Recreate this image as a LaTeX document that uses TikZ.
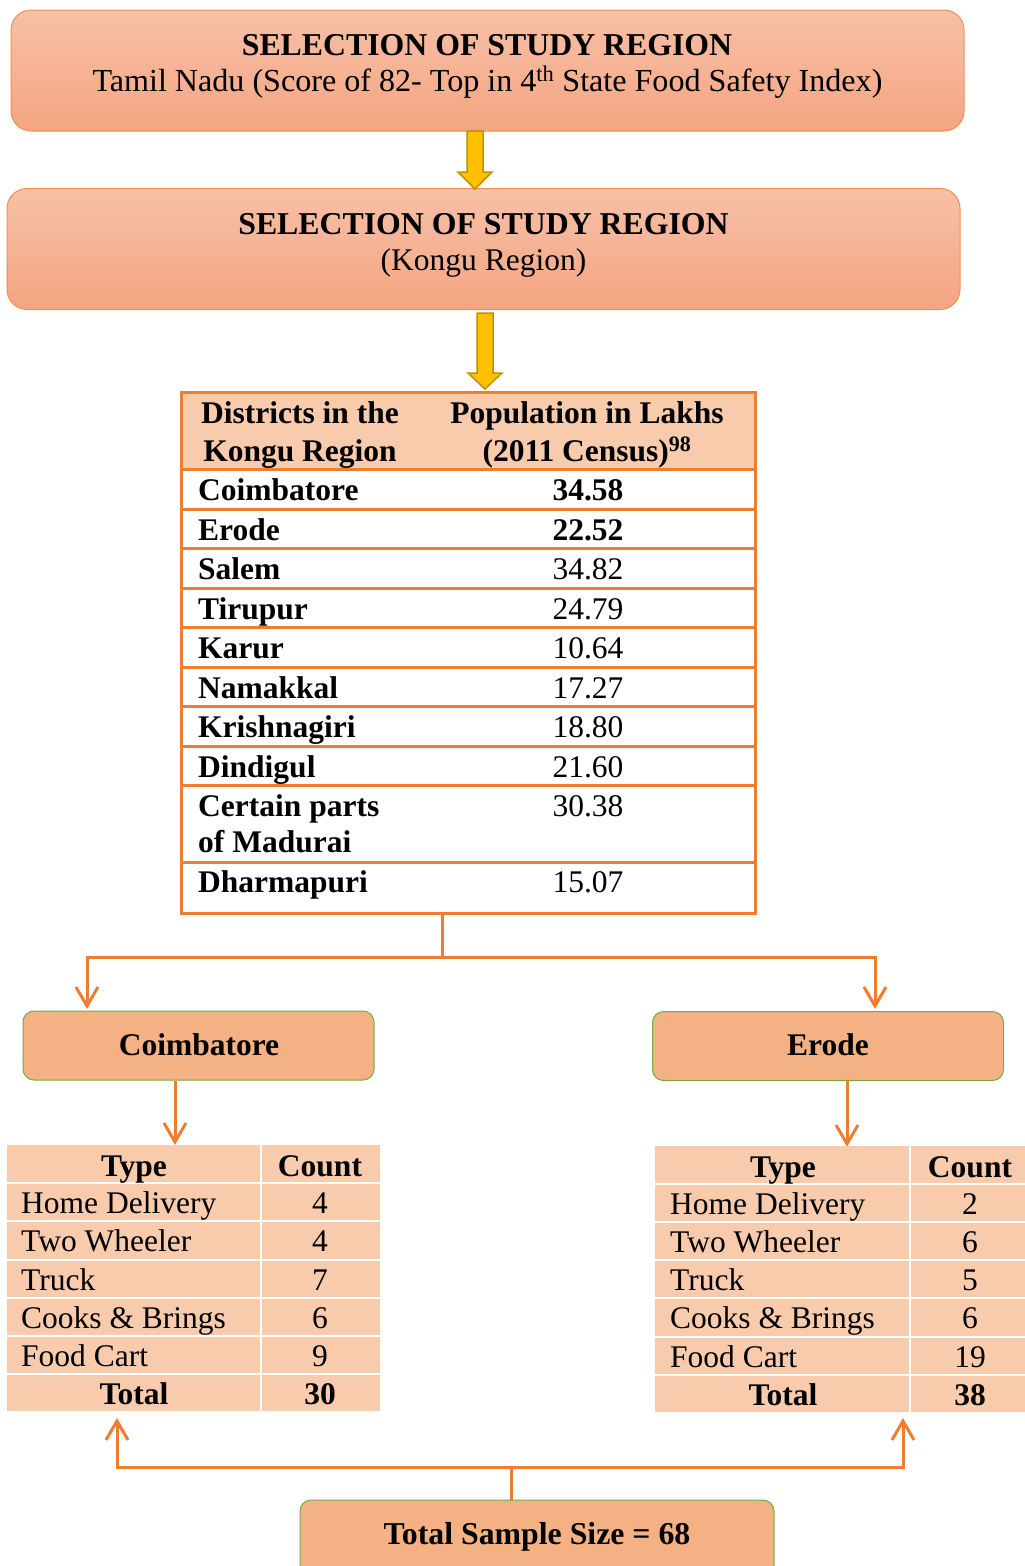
\documentclass[tikz,border=0pt]{standalone}
\usepackage{fontspec}
\setmainfont{Liberation Serif}
\usetikzlibrary{arrows.meta}
\definecolor{org}{HTML}{ED7D31}
\definecolor{peach}{HTML}{F8CBAD}
\definecolor{boxfill}{HTML}{F4B183}
\definecolor{grn}{HTML}{70AD47}
\definecolor{gtop}{HTML}{F7C0A7}
\definecolor{gbot}{HTML}{F4A581}
\definecolor{yel}{HTML}{FFC000}
\definecolor{yelb}{HTML}{BF9000}
\begin{document}
\begin{tikzpicture}[x=1pt,y=-1pt,
  every node/.style={font=\fontsize{31.5}{36}\selectfont, inner sep=0pt},
  bigbox/.style={draw=org!85, line width=1pt, rounded corners=20pt, top color=gtop, bottom color=gbot, minimum width=953pt, minimum height=121pt},
  distbox/.style={draw=grn, line width=1pt, fill=boxfill, rounded corners=11pt, minimum width=351pt, minimum height=69pt},
  yarrow/.style={fill=yel, draw=yelb, line width=1.5pt, line join=miter},
  conn/.style={draw=org, line width=3pt},
  barb/.style={-{Straight Barb[length=19pt,width=22pt]}},
  tline/.style={draw=org, line width=3pt},
  wline/.style={draw=white, line width=2pt},
  txt/.style={anchor=base},
  txtl/.style={anchor=base west},
]
\useasboundingbox (0,0) rectangle (1025,1566);

% top boxes
\node[bigbox] (b1) at (487.5,70.5) {};
\node[txt,font=\fontsize{31.8}{36}\selectfont\bfseries] (b1h) at (487,55) {SELECTION OF STUDY REGION};
\node[txt,font=\fontsize{32.1}{36}\selectfont] (b1t) at (487.5,91) {Tamil Nadu (Score of 82- Top in 4\textsuperscript{th} State Food Safety Index)};

\node[bigbox] (b2) at (483.5,249) {};
\node[txt,font=\fontsize{31.8}{36}\selectfont\bfseries] (b2h) at (483.5,234) {SELECTION OF STUDY REGION};
\node[txt] (b2t) at (483.5,270) {(Kongu Region)};

% yellow block arrows
\draw[yarrow] (467,131) -- (483,131) -- (483,172) -- (492,172) -- (475,189) -- (458,172) -- (467,172) -- cycle;
\draw[yarrow] (477,313) -- (493,313) -- (493,373) -- (502,373) -- (485,389) -- (468,373) -- (477,373) -- cycle;

% district table
\fill[peach] (182,393) rectangle (755,469);
\node[minimum width=573pt, minimum height=520pt] (tbl) at (468.5,653) {};
\foreach \y in {469,509,548,588,627,667,706,746,785,862}
  \draw[tline] (182,\y) -- (755,\y);
\draw[tline] (tbl.north west) rectangle (tbl.south east);

\node[txt,font=\fontsize{31.5}{38}\selectfont\bfseries,align=center] (h1) at (300,461) {Districts in the\\Kongu Region};
\node[txt,font=\fontsize{31.5}{38}\selectfont\bfseries,align=center] (h2) at (587,461) {Population in Lakhs\\(2011 Census)\textsuperscript{98}};

\foreach \n/\v/\y [count=\i] in {Coimbatore/\textbf{34.58}/500, Erode/\textbf{22.52}/540, Salem/34.82/579, Tirupur/24.79/619, Karur/10.64/658, Namakkal/17.27/698, Krishnagiri/18.80/737, Dindigul/21.60/777, Dharmapuri/15.07/892} {
  \node[txtl,font=\fontsize{31.5}{36}\selectfont\bfseries] (dn\i) at (198,\y) {\n};
  \node[txt] (dv\i) at (588,\y) {\v};
}
\node[txtl,font=\fontsize{31.5}{36}\selectfont\bfseries,align=left] (dnm) at (198,852) {Certain parts\\of Madurai};
\node[txt] (dvm) at (588,816) {30.38};

% split connector
\coordinate (split) at (442,957);
\coordinate (cin) at (87,1009);
\coordinate (ein) at (875,1009);
\draw[conn] (442,913) -- (split);
\draw[conn,barb] (split) -| (cin);
\draw[conn,barb] (split) -| (ein);

% district boxes
\node[distbox] (cb) at (198.5,1045.5) {};
\node[txt,font=\fontsize{31.5}{36}\selectfont\bfseries] (cbt) at (199,1055) {Coimbatore};
\node[distbox] (eb) at (828,1046) {};
\node[txt,font=\fontsize{31.5}{36}\selectfont\bfseries] (ebt) at (828,1055) {Erode};

\coordinate (ltin) at (175,1145);
\coordinate (rtin) at (847,1147);
\draw[conn,barb] (cb.south -| ltin) -- (ltin);
\draw[conn,barb] (eb.south -| rtin) -- (rtin);

% left sample table
\node[fill=peach, minimum width=373pt, minimum height=266pt] (lt) at (193.5,1278) {};
\draw[wline] (261,1145) -- (261,1411);
\foreach \y in {1183,1221,1260,1298,1336,1374}
  \draw[wline] (7,\y) -- (380,\y);
\node[txt,font=\fontsize{31.5}{36}\selectfont\bfseries] (lth1) at (134,1176) {Type};
\node[txt,font=\fontsize{31.5}{36}\selectfont\bfseries] (lth2) at (320,1176) {Count};
\foreach \n/\v/\y [count=\i] in {Home Delivery/4/1213, Two Wheeler/4/1251, Truck/7/1290, Cooks \& Brings/6/1328, Food Cart/9/1366} {
  \node[txtl] (ln\i) at (21,\y) {\n};
  \node[txt] (lv\i) at (320,\y) {\v};
}
\node[txt,font=\fontsize{31.5}{36}\selectfont\bfseries] (ltt1) at (134,1404) {Total};
\node[txt,font=\fontsize{31.5}{36}\selectfont\bfseries] (ltt2) at (320,1404) {30};

% right sample table
\node[fill=peach, minimum width=370pt, minimum height=266pt] (rt) at (840,1279) {};
\draw[wline] (910,1146) -- (910,1412);
\foreach \y in {1184,1222,1260,1298,1337,1375}
  \draw[wline] (655,\y) -- (1025,\y);
\node[txt,font=\fontsize{31.5}{36}\selectfont\bfseries] (rth1) at (783,1177) {Type};
\node[txt,font=\fontsize{31.5}{36}\selectfont\bfseries] (rth2) at (970,1177) {Count};
\foreach \n/\v/\y [count=\i] in {Home Delivery/2/1214, Two Wheeler/6/1252, Truck/5/1290, Cooks \& Brings/6/1328, Food Cart/19/1367} {
  \node[txtl] (rn\i) at (670,\y) {\n};
  \node[txt] (rv\i) at (970,\y) {\v};
}
\node[txt,font=\fontsize{31.5}{36}\selectfont\bfseries] (rtt1) at (783,1405) {Total};
\node[txt,font=\fontsize{31.5}{36}\selectfont\bfseries] (rtt2) at (970,1405) {38};

% total box and connectors
\node[distbox, minimum width=474pt, minimum height=80pt] (tot) at (537,1540) {};
\node[txt,font=\fontsize{31.8}{36}\selectfont\bfseries] (tott) at (537,1544) {Total Sample Size = 68};
\coordinate (join) at (511,1467);
\coordinate (lout) at (117,1418);
\coordinate (rout) at (903,1418);
\draw[conn] (tot.north -| join) -- (join);
\draw[conn,barb] (join) -| (lout);
\draw[conn,barb] (join) -| (rout);
\end{tikzpicture}
\end{document}
